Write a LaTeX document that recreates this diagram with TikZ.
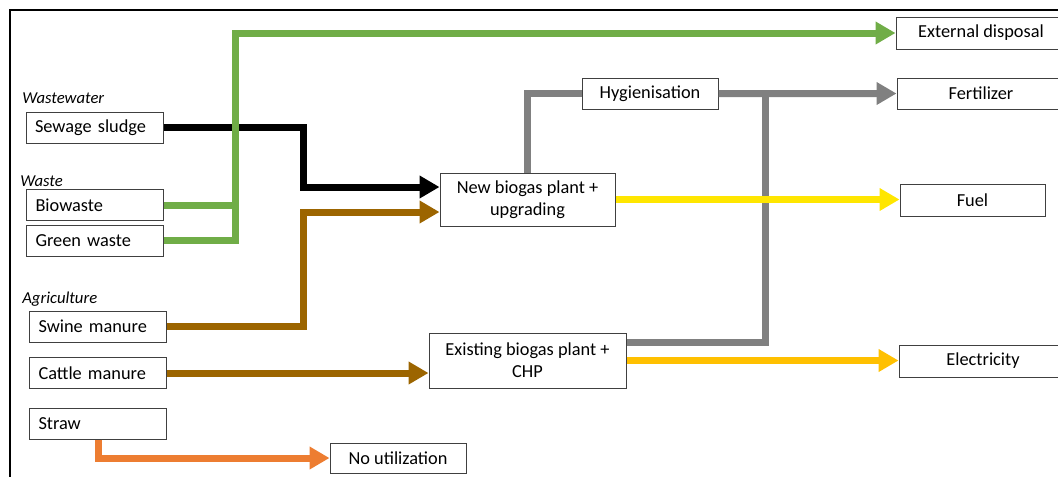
\documentclass[tikz,border=0pt]{standalone}
\usepackage{fontspec}
\setmainfont{Carlito}
\usetikzlibrary{arrows.meta,positioning}

\definecolor{wastegreen}{HTML}{70AD47}
\definecolor{manure}{HTML}{9C6500}
\definecolor{strawor}{HTML}{ED7D31}
\definecolor{digest}{HTML}{808080}
\definecolor{fuelyel}{HTML}{FFE600}
\definecolor{power}{HTML}{FFC000}
\definecolor{boxline}{HTML}{404040}

\begin{document}
\begin{tikzpicture}[x=0.6pt,y=-0.6pt,on grid,
  font=\fontsize{11}{13.4}\selectfont,
  box/.style={draw=boxline,line width=0.6pt,fill=white,minimum height=18.6pt,inner sep=0pt,align=center},
  src/.style={box,text width=71.4pt,inner xsep=5.4pt,align=left},
  flow/.style={line width=4.2pt,draw=#1},
  arr/.style={flow=#1,-{Triangle[length=12pt,width=13pt]}},
  group/.style={font=\fontsize{10}{12}\selectfont\itshape,anchor=base west,inner sep=0pt}]
		\clip (0,0) rectangle (1058,476);
		\draw[line width=1pt] (10,10) rectangle (1120,520);
		% sources
		\node[group](lwater) at (22,103) {Wastewater};
		\node[src](sewage) at (94.5,127.5) {Sewage sludge};
		\node[group](lwaste) at (20,186) {Waste};
		\node[src](biowaste) at (95,205) {Biowaste};
		\node[src](greenw)[below=21.3pt of biowaste] {Green waste};
		\node[group](lagri) at (22,303) {Agriculture};
		\node[src](swine) at (98,326.5) {Swine manure};
		\node[src](cattle)[below=27.9pt of swine] {Cattle manure};
		\node[src](straw)[below=30.3pt of cattle] {Straw};
		% plants
		\node[box,minimum width=105pt,minimum height=31.8pt](newbio) at (527.5,199.5) {New biogas plant +\\upgrading};
		\node[box,minimum width=81.6pt](hyg) at (650,93.5) {Hygienisation};
		\node[box,minimum width=118.2pt,minimum height=33pt](exist) at (527.5,360.5) {Existing biogas plant +\\CHP};
		\node[box,minimum width=81.6pt,minimum height=18pt](noutil) at (398,458) {No utilization};
		% products
		\node[box,minimum width=102pt,minimum height=19.2pt](extdisp) at (981,33) {External disposal};
		\node[box,minimum width=100.8pt](fert)[below=36.3pt of extdisp] {Fertilizer};
		\node[box,minimum width=87pt,minimum height=19.2pt](fuel) at (972.5,200) {Fuel};
		\node[box,minimum width=100.8pt,minimum height=19.2pt](elec) at (983,361) {Electricity};
		% bends
		\coordinate (bk) at (303,187);
		\coordinate (br) at (303,212);
		\coordinate (gtop) at (235,33);
		\coordinate (gjoin) at (235,205);
		\coordinate (gdown) at (765,342);
		% flows
		\draw[arr=black] (sewage) -| (bk) -- (bk -| newbio.west);
		\draw[arr=manure] (swine) -| (br) -- (br -| newbio.west);
		\draw[arr=manure] (cattle) -- (cattle -| exist.west);
		\draw[flow=wastegreen] (greenw) -| (gjoin);
		\draw[arr=wastegreen] (biowaste) -| (gtop) -- (extdisp);
		\draw[flow=digest] (newbio) |- (hyg);
		\draw[arr=digest] (hyg) -- (fert);
		\draw[flow=digest] (gdown -| exist.east) -- (gdown) -- (gdown |- hyg);
		\draw[arr=fuelyel] (newbio) -- (newbio -| fuel.west);
		\draw[arr=power] (exist) -- (exist -| elec.west);
		\draw[arr=strawor] (straw.south) |- (noutil);
\end{tikzpicture}
\end{document}
